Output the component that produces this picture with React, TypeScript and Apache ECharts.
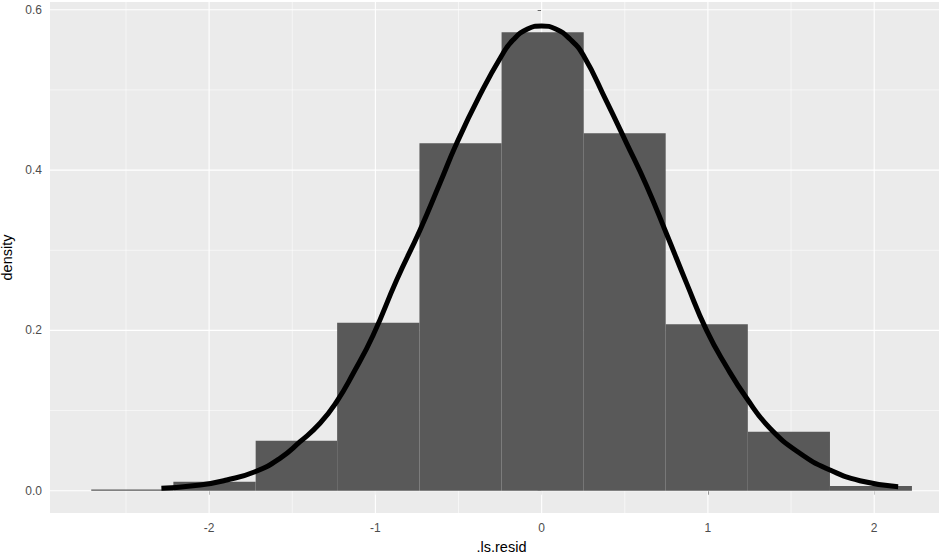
import { useEffect, useRef } from 'react';
import * as echarts from 'echarts';

// histogram of .ls.resid (density scale), bins of ~0.4936
const binEdges = [-2.709, -2.215, -1.72, -1.23, -0.735, -0.241, 0.253, 0.746, 1.24, 1.734, 2.227];
const binDensity = [0, 0.0113, 0.0624, 0.2097, 0.4336, 0.5721, 0.446, 0.2077, 0.0736, 0.0059];

// density curve
const curveX = [
  -2.287, -2.054, -1.894, -1.724, -1.574, -1.453, -1.333, -1.233, -1.133, -1.013, -0.872, -0.732,
  -0.612, -0.511, -0.371, -0.24, -0.171, -0.085, 0, 0.085, 0.17, 0.25, 0.391, 0.511, 0.631, 0.752,
  0.872, 0.992, 1.112, 1.233, 1.373, 1.553, 1.734, 1.914, 2.144,
];
const curveY = [
  0.003, 0.0071, 0.0134, 0.0237, 0.0404, 0.0611, 0.0841, 0.111, 0.1465, 0.1943, 0.2629, 0.325,
  0.3835, 0.4334, 0.4937, 0.543, 0.5625, 0.576, 0.5798, 0.576, 0.5635, 0.5435, 0.4853, 0.4334,
  0.3805, 0.32, 0.2587, 0.2, 0.1547, 0.1153, 0.0779, 0.0467, 0.0258, 0.0125, 0.005,
];

const xTicks = [-2, -1, 0, 1, 2];
const xMinor = [-2.5, -1.5, -0.5, 0.5, 1.5];
const yTicks = [0, 0.2, 0.4, 0.6];
const yMinor = [0.1, 0.3, 0.5];

const X_MIN = -2.957;
const X_MAX = 2.474;
const Y_MIN = -0.0278;
const Y_MAX = 0.6097;

const FONT = '"Liberation Sans", Arial, sans-serif';

export default function App() {
  const ref = useRef<HTMLDivElement>(null);

  useEffect(() => {
    document.body.style.margin = '0';
    if (!ref.current) return;
    const chart = echarts.init(ref.current, null, { renderer: 'svg' });

    // [value, vertical?, major?]
    const gridRows = [
      ...xMinor.map((v) => [v, 1, 0]),
      ...yMinor.map((v) => [v, 0, 0]),
      ...xTicks.map((v) => [v, 1, 1]),
      ...yTicks.map((v) => [v, 0, 1]),
    ];

    const tickLabel = { color: '#4D4D4D', fontSize: 12, fontFamily: FONT };
    const title = { color: '#000000', fontSize: 14.5, fontFamily: FONT };

    chart.setOption({
      animation: false,
      grid: {
        left: 50,
        right: -14,
        top: 2,
        bottom: 47,
        outerBoundsMode: 'none',
        containLabel: false,
        show: true,
        backgroundColor: '#EBEBEB',
        borderWidth: 0,
      },
      xAxis: {
        type: 'value',
        min: X_MIN,
        max: X_MAX,
        name: '.ls.resid',
        nameLocation: 'middle',
        nameGap: 26,
        nameTextStyle: title,
        axisLine: { show: false },
        axisTick: { show: true, length: 4, customValues: xTicks, lineStyle: { color: '#333333', width: 1 } },
        axisLabel: { ...tickLabel, margin: 9, customValues: xTicks },
        splitLine: { show: false },
      },
      yAxis: {
        type: 'value',
        min: Y_MIN,
        max: Y_MAX,
        name: 'density',
        nameLocation: 'middle',
        nameGap: 23,
        nameTextStyle: title,
        axisLine: { show: false },
        axisTick: { show: true, length: 4, customValues: yTicks, lineStyle: { color: '#333333', width: 1 } },
        axisLabel: {
          ...tickLabel,
          margin: 8,
          customValues: yTicks,
          formatter: (v: number) => v.toFixed(1),
        },
        splitLine: { show: false },
      },
      series: [
        {
          // panel grid lines (ggplot2 style, white major + thin minor)
          type: 'custom',
          z: 1,
          silent: true,
          encode: { x: -1, y: -1 },
          data: gridRows,
          renderItem: (_params: any, api: any) => {
            const v = api.value(0);
            const vertical = api.value(1) === 1;
            const p0 = vertical ? api.coord([v, Y_MIN]) : api.coord([X_MIN, v]);
            const p1 = vertical ? api.coord([v, Y_MAX]) : api.coord([X_MAX, v]);
            return {
              type: 'line',
              shape: { x1: p0[0], y1: p0[1], x2: p1[0], y2: p1[1] },
              style: { stroke: '#FFFFFF', lineWidth: api.value(2) === 1 ? 1.1 : 0.55 },
            };
          },
        },
        {
          type: 'custom',
          z: 2,
          silent: true,
          encode: { x: [0, 1], y: 2 },
          data: binDensity.map((d, i) => [binEdges[i], binEdges[i + 1], d]),
          renderItem: (_params: any, api: any) => {
            const p0 = api.coord([api.value(0), 0]);
            const p1 = api.coord([api.value(1), api.value(2)]);
            const h = Math.max(1.2, p0[1] - p1[1]);
            return {
              type: 'rect',
              shape: { x: p0[0], y: p0[1] - h, width: p1[0] - p0[0], height: h },
              style: { fill: '#595959' },
            };
          },
        },
        {
          type: 'line',
          z: 3,
          silent: true,
          smooth: 0.5,
          showSymbol: false,
          data: curveX.map((x, i) => [x, curveY[i]]),
          lineStyle: { color: '#000000', width: 5, cap: 'butt' },
        },
      ],
    });

    return () => {
      chart.dispose();
    };
  }, []);

  return <div ref={ref} style={{ width: 939, height: 560 }} />;
}
